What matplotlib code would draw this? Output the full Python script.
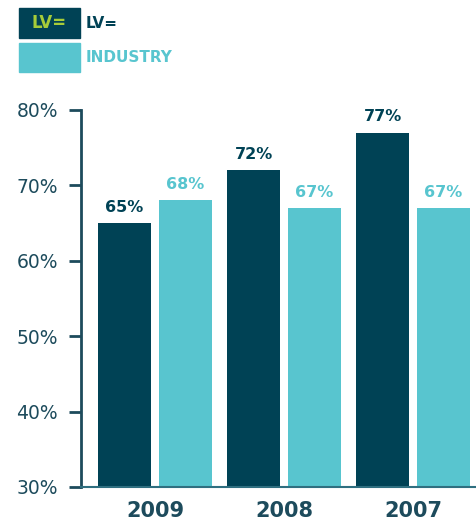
import matplotlib
matplotlib.use('Agg')
from matplotlib import pyplot as plt
from matplotlib.patches import Rectangle
import numpy as np

# values
years = ['2009', '2008', '2007']
lv_vals = [65, 72, 77]
industry_vals = [68, 67, 67]
y_ticks = [30, 40, 50, 60, 70, 80]

dark = '#004255'
light = '#58c5cf'
txt = '#1d4b5c'
lime = '#a6cc39'

fig = plt.figure(figsize=(4.76, 5.21), dpi=100)
ax = fig.add_axes([81 / 476, 34 / 521, 395 / 476, 377 / 521])

x = np.arange(len(years))
w = 0.411
off = 0.2364
ax.bar(x - off, lv_vals, w, color=dark, bottom=0)
ax.bar(x + off, industry_vals, w, color=light, bottom=0)

for xi, v in zip(x, lv_vals):
    ax.annotate(f'{v}%', (xi - off, v), xytext=(0, 6), textcoords='offset points',
                ha='center', va='bottom', fontsize=11.5, fontweight='heavy', color=dark)
for xi, v in zip(x, industry_vals):
    ax.annotate(f'{v}%', (xi + off, v), xytext=(0, 6), textcoords='offset points',
                ha='center', va='bottom', fontsize=11.5, fontweight='heavy', color=light)

ax.set_ylim(30, 80)
ax.set_xlim(-0.574, 2.488)
ax.set_yticks(y_ticks)
ax.set_yticklabels([f'{t}%' for t in y_ticks], fontsize=13.5, color=txt)
ax.tick_params(axis='y', length=9, width=2, color=txt, pad=7.5)
ax.set_xticks(x)
ax.set_xticklabels(years, fontsize=15, fontweight='heavy', color=txt)
ax.tick_params(axis='x', length=0, pad=10)

for s in ['top', 'right']:
    ax.spines[s].set_visible(False)
ax.spines['left'].set_color(txt)
ax.spines['left'].set_linewidth(2)
ax.spines['bottom'].set_color('#2f6f80')
ax.spines['bottom'].set_linewidth(1.5)

# legend drawn in figure pixels
def px(x0, y0):
    return x0 / 476, 1 - y0 / 521

fig.patches.append(Rectangle(px(19, 38), 61 / 476, 30 / 521, color=dark,
                             transform=fig.transFigure))
fig.patches.append(Rectangle(px(19, 72), 61 / 476, 29 / 521, color=light,
                             transform=fig.transFigure))
fig.text(*px(49.5, 23), 'LV=', color=lime, fontsize=12, fontweight='heavy',
         ha='center', va='center')
fig.text(*px(86, 23), 'LV=', color=dark, fontsize=11, fontweight='bold',
         ha='left', va='center')
fig.text(*px(86, 57), 'INDUSTRY', color=light, fontsize=11, fontweight='bold',
         ha='left', va='center')

fig.savefig('out.png', dpi=100)
